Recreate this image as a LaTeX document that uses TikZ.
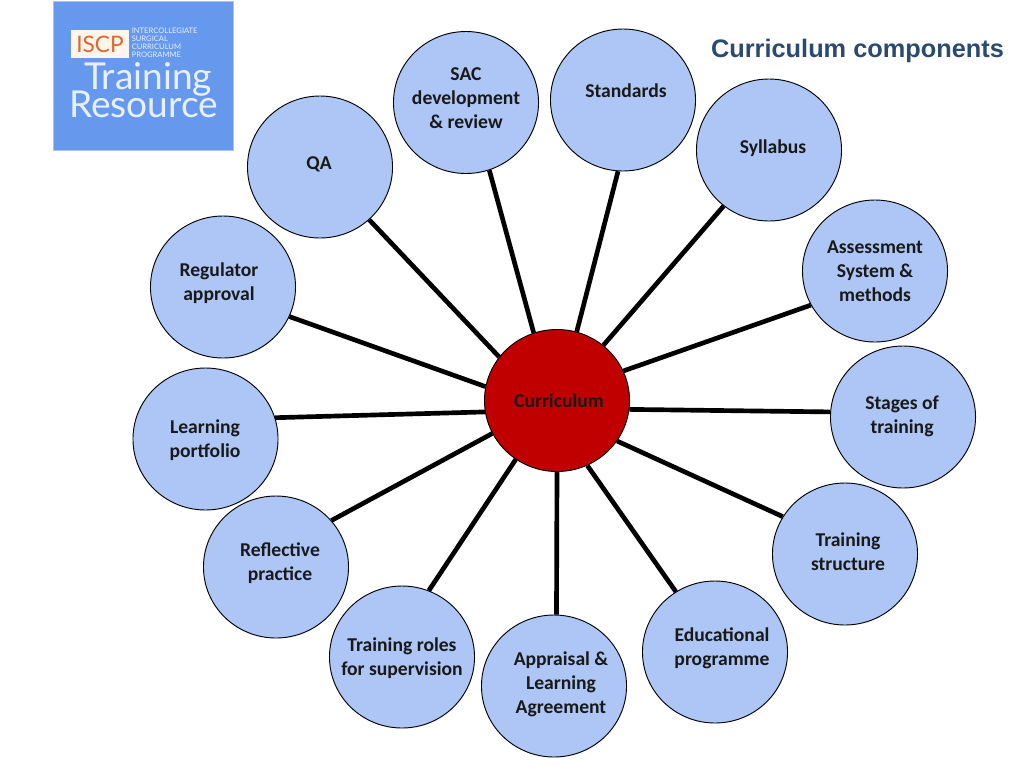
\documentclass[tikz,border=0pt]{standalone}
\usepackage{fontspec}
\setmainfont{Carlito}
\newfontfamily\titlefont{Liberation Sans}
\newfontfamily\logofont{Lato}
\usetikzlibrary{shapes.geometric}
\definecolor{bubbleblue}{HTML}{ADC6F5}
\definecolor{hubred}{HTML}{C00000}
\definecolor{logoblue}{HTML}{6699EE}
\definecolor{logoedge}{HTML}{A9C1EC}
\definecolor{logoorange}{HTML}{DD6633}
\definecolor{titleblue}{HTML}{2A4A70}
\tikzset{
  bubble/.style={ellipse, draw=black, fill=bubbleblue, line width=0.7pt, minimum width=108.8pt, minimum height=106.5pt, inner sep=0pt},
  hub/.style={bubble, fill=hubred},
  spoke/.style={line width=3.5pt, black},
  caption/.style={font=\fontsize{14.7}{18}\selectfont\bfseries, align=center, inner sep=0pt, text=black!90},
  logotext/.style={font=\logofont\fontsize{5.7}{6.1}\selectfont, text=white!85!logoblue, align=left, inner sep=0pt, anchor=north west},
  logobig/.style={inner sep=0pt, anchor=base, text=white!85!logoblue, font=\logofont\fontsize{27.8}{27.8}\selectfont},
}
\begin{document}
\begin{tikzpicture}[x=0.75pt, y=-0.75pt]
        \useasboundingbox (0,0) rectangle (1024,768);
        % logo
        \node[draw=logoedge, fill=logoblue, line width=1pt, minimum width=135pt, minimum height=112pt, inner sep=0pt] (logo) at (143.5,76) {};
        \node[fill=white!92!orange, minimum width=44pt, minimum height=21pt, inner sep=0pt, text=logoorange, font=\logofont\fontsize{17}{17}\selectfont] (iscp) at (100,44) {ISCP};
        \node[logotext] (logosmall) at (131.5,27.5) {INTERCOLLEGIATE\\SURGICAL\\CURRICULUM\\PROGRAMME};
        \node[logobig] (logotraining) at (148,89)   {Training};
        \node[logobig] (logoresource) at (143.5,117) {Resource};
        % title
        \node[inner sep=0pt, text=titleblue, font=\titlefont\bfseries\fontsize{19}{19}\selectfont] (title) at (857.5,50.5) {Curriculum components};
        % bubbles
        \node[hub]    (curriculum) at (557,400.5) {};
        \node[bubble] (sac)        at (466,102.5) {};
        \node[bubble] (standards)  at (623,100) {};
        \node[bubble] (syllabus)   at (769,150) {};
        \node[bubble] (assessment) at (875,271) {};
        \node[bubble] (stages)     at (903,417) {};
        \node[bubble] (structure)  at (845,554) {};
        \node[bubble] (educational) at (715,652) {};
        \node[bubble] (appraisal)  at (554,686) {};
        \node[bubble] (roles)      at (402,657) {};
        \node[bubble] (reflective) at (276,567) {};
        \node[bubble] (portfolio)  at (205.5,439) {};
        \node[bubble] (regulator)  at (223,287) {};
        \node[bubble] (qa)         at (320,167) {};
        % spokes
        \draw[spoke] (curriculum.109) -- (sac.289);
        \draw[spoke] (curriculum.74)  -- (standards.266);
        \draw[spoke] (curriculum.50)  -- (syllabus.231);
        \draw[spoke] (curriculum.24)  -- (assessment.208);
        \draw[spoke] (curriculum.-7)  -- (stages.176);
        \draw[spoke] (curriculum.-34) -- (structure.149);
        \draw[spoke] (curriculum.-65) -- (educational.123);
        \draw[spoke] (curriculum.-90) -- (appraisal.88);
        \draw[spoke] (curriculum.-125) -- (roles.68);
        \draw[spoke] (curriculum.-153) -- (reflective.40);
        \draw[spoke] (curriculum.-171) -- (portfolio.17);
        \draw[spoke] (curriculum.169) -- (regulator.-24);
        \draw[spoke] (curriculum.143) -- (qa.-47);
        % captions
        \node[caption] (curriculumtext)  at (559,401) {Curriculum};
        \node[caption] (sactext)         at (466,98.5) {SAC\\development\\\& review};
        \node[caption] (standardstext)   at (626,91)  {Standards};
        \node[caption] (syllabustext)    at (773,148.5) {Syllabus};
        \node[caption] (assessmenttext)  at (875,271.5) {Assessment\\System \&\\methods};
        \node[caption] (stagestext)      at (902,416.5) {Stages of\\training};
        \node[caption] (structuretext)   at (848,552) {Training\\structure};
        \node[caption] (educationaltext) at (722,648) {Educational\\programme};
        \node[caption] (appraisaltext)   at (561,684.5) {Appraisal \&\\Learning\\Agreement};
        \node[caption] (rolestext)       at (402,658) {Training roles\\for supervision};
        \node[caption] (reflectivetext)  at (280,563) {Reflective\\practice};
        \node[caption] (portfoliotext)   at (205,440.5) {Learning\\portfolio};
        \node[caption] (regulatortext)   at (219,283.5) {Regulator\\approval};
        \node[caption] (qatext)          at (319,164.5) {QA};
\end{tikzpicture}
\end{document}
